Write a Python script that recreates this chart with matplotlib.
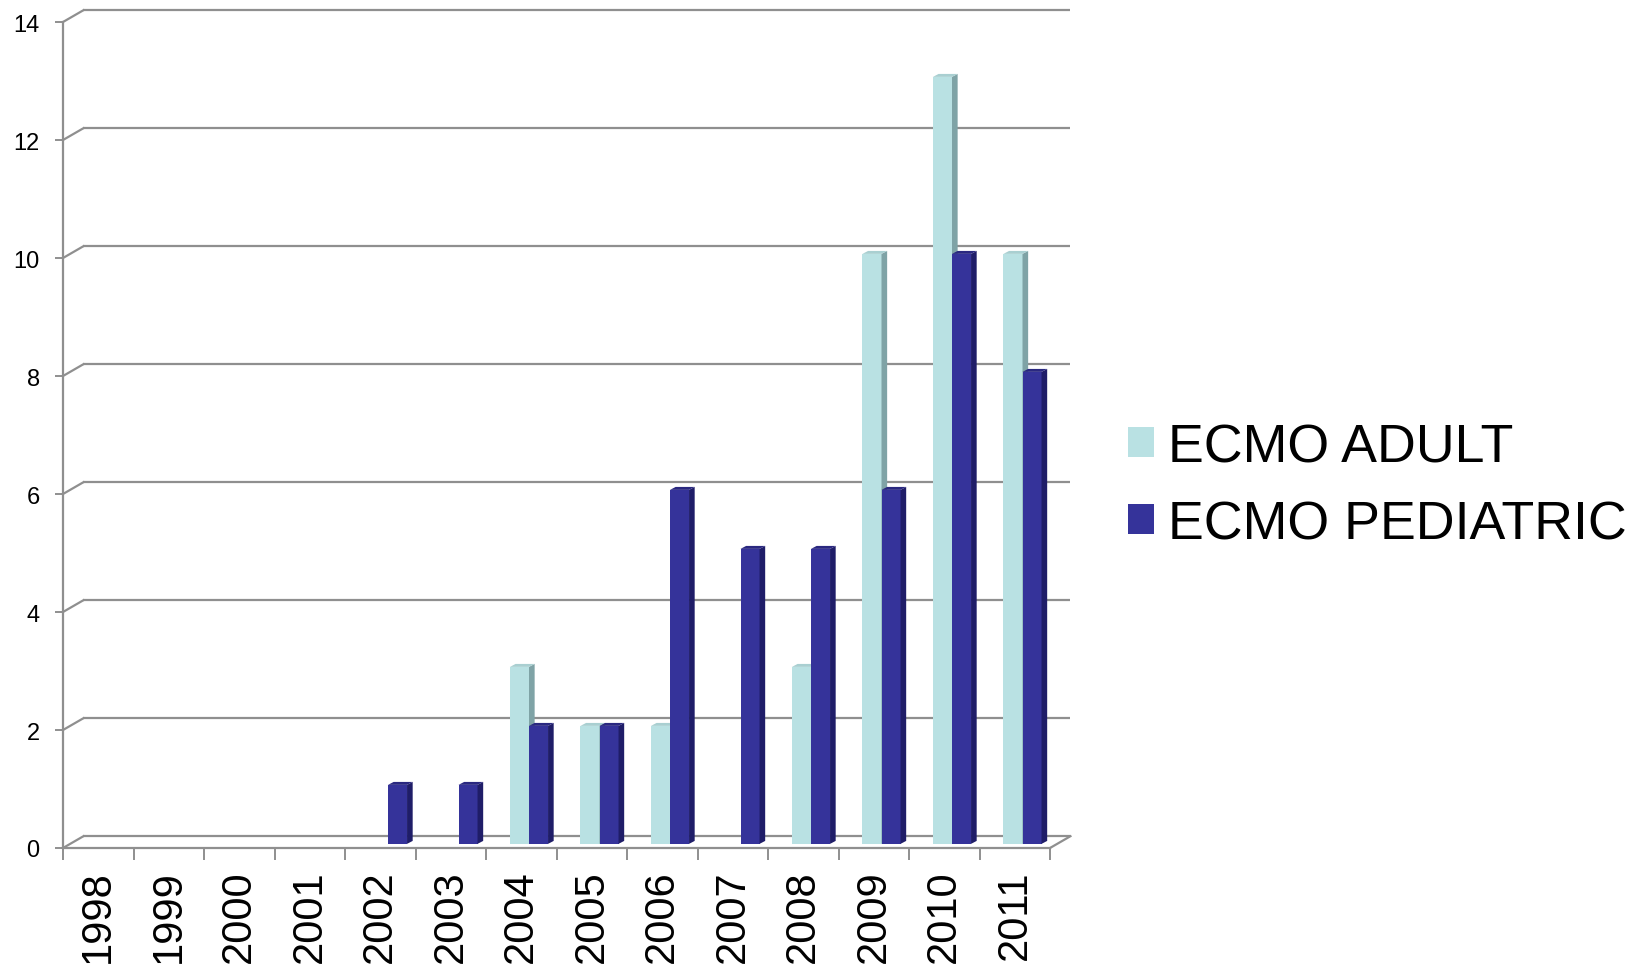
import matplotlib
matplotlib.use("Agg")
import matplotlib.pyplot as plt
from matplotlib.patches import Polygon, Patch

plt.rcParams['font.family'] = ['Liberation Sans', 'DejaVu Sans']

years = ['1998', '1999', '2000', '2001', '2002', '2003', '2004',
         '2005', '2006', '2007', '2008', '2009', '2010', '2011']
adult = [0, 0, 0, 0, 0, 0, 3, 2, 2, 0, 3, 10, 13, 10]
pediatric = [0, 0, 0, 0, 1, 1, 2, 2, 6, 5, 5, 6, 10, 8]
y_ticks = [0, 2, 4, 6, 8, 10, 12, 14]

adult_front = '#b9e1e3'
adult_side = '#7fa3a6'
adult_top = '#a9cfd1'
ped_front = '#35339a'
ped_side = '#1f1d68'
ped_top = '#2a2880'
grid_col = '#8f8f8f'

W, H = 1639, 970
fig = plt.figure(figsize=(W / 100, H / 100), dpi=100)
ax = fig.add_axes([63 / W, 1 - 849 / H, 987 / W, 826 / H])
ax.set_xlim(0, len(years))
ax.set_ylim(0, 14)

# depth of the back wall / floor and of each bar, in data units
DX, DY = 0.29, 0.2
BDX, BDY = 0.08, 0.05
BASE = 0.07
BW = 0.27

n = len(years)
# back wall gridlines with the short diagonal on the left wall
for v in y_ticks:
    ax.plot([DX, n + DX], [v + DY, v + DY], color=grid_col, lw=1.6,
            clip_on=False, zorder=1, solid_capstyle='butt')
    ax.plot([0, DX], [v, v + DY], color=grid_col, lw=1.6,
            clip_on=False, zorder=1)
# right edge of the floor
ax.plot([n, n + DX], [0, DY], color=grid_col, lw=1.6, clip_on=False, zorder=1)


def draw_bars(offset, vals, front, side, top, z):
    lefts = [i + offset for i in range(n)]
    ax.bar(lefts, vals, width=BW, bottom=BASE, align='edge', color=front,
           linewidth=0, zorder=z)
    for l, h in zip(lefts, vals):
        if h <= 0:
            continue
        r = l + BW
        y0, y1 = BASE, BASE + h
        ax.add_patch(Polygon([(r, y0), (r + BDX, y0 + BDY), (r + BDX, y1 + BDY), (r, y1)],
                             closed=True, facecolor=side, edgecolor='none',
                             zorder=z, clip_on=False))
        ax.add_patch(Polygon([(l, y1), (l + BDX, y1 + BDY), (r + BDX, y1 + BDY), (r, y1)],
                             closed=True, facecolor=top, edgecolor='none',
                             zorder=z, clip_on=False))


draw_bars(0.34, adult, adult_front, adult_side, adult_top, 3)
draw_bars(0.61, pediatric, ped_front, ped_side, ped_top, 4)

for s in ['top', 'right']:
    ax.spines[s].set_visible(False)
for s in ['left', 'bottom']:
    ax.spines[s].set_color(grid_col)
    ax.spines[s].set_linewidth(1.6)
    ax.spines[s].set_zorder(5)

ax.set_yticks(y_ticks)
ax.set_yticklabels([str(v) for v in y_ticks], fontsize=17)
ax.tick_params(axis='y', length=5.8, width=1.4, color=grid_col, pad=11)

ax.set_xticks([i + 0.5 for i in range(n)])
ax.set_xticklabels(years, rotation=90, fontsize=30)
ax.tick_params(axis='x', which='major', length=0, pad=15.5)
ax.set_xticks(range(n + 1), minor=True)
ax.tick_params(axis='x', which='minor', length=8.6, width=1.4, color=grid_col)
ax.set_facecolor('none')

handles = [Patch(facecolor=adult_front, edgecolor='none', label='ECMO ADULT'),
           Patch(facecolor=ped_front, edgecolor='none', label='ECMO PEDIATRIC')]
fig.legend(handles=handles, loc='center left',
           bbox_to_anchor=(1128 / W, 1 - 487 / H), frameon=False,
           fontsize=38.7, handlelength=0.48, handleheight=0.48,
           handletextpad=0.27, labelspacing=0.5, borderpad=0,
           borderaxespad=0)

fig.savefig('out.png', dpi=100, facecolor='white')
